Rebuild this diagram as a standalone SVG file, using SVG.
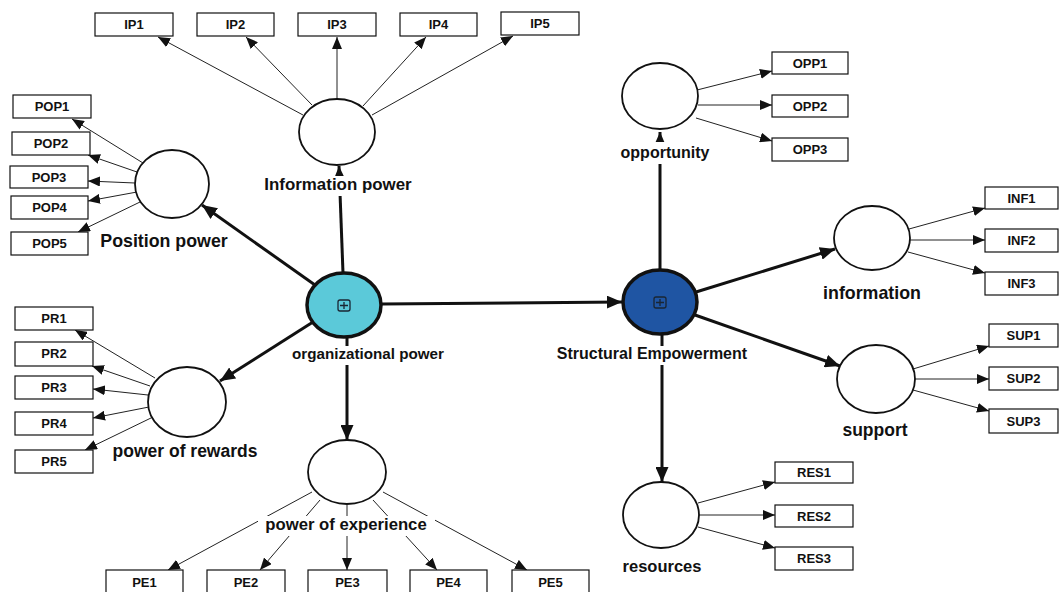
<svg xmlns="http://www.w3.org/2000/svg" width="1059" height="592" viewBox="0 0 1059 592">
<style>
.box{fill:#fff;stroke:#111;stroke-width:1.2}
.bt{font-family:"Liberation Sans",Arial,sans-serif;font-weight:bold;font-size:13px;fill:#111;text-anchor:middle}
.lv{fill:#fff;stroke:#111;stroke-width:1.8}
.lb{font-family:"Liberation Sans",Arial,sans-serif;font-weight:bold;font-size:16px;fill:#111;text-anchor:middle}
.thin{stroke:#222;stroke-width:1;fill:none;marker-end:url(#a1)}
.thick{stroke:#111;stroke-width:3;fill:none;marker-end:url(#a2)}
.bg{fill:#fff}
.icon{fill:none;stroke:#1a2633;stroke-width:1.3}
</style>
<defs>
<marker id="a1" markerUnits="userSpaceOnUse" markerWidth="12" markerHeight="10" refX="12" refY="5" orient="auto"><path d="M0,0 L12,5 L0,10 z" fill="#111"/></marker>
<marker id="a2" markerUnits="userSpaceOnUse" markerWidth="15" markerHeight="13" refX="15" refY="6.5" orient="auto"><path d="M0,0 L15,6.5 L0,13 z" fill="#111"/></marker>
</defs>
<rect width="1059" height="592" fill="#fff"/>
<g id="connectors">
<line class="thick" x1="382" y1="304" x2="622" y2="302"/>
<line class="thick" x1="343" y1="273" x2="339" y2="166"/>
<line class="thick" x1="315" y1="285" x2="202" y2="205"/>
<line class="thick" x1="313" y1="322" x2="220" y2="381"/>
<line class="thick" x1="347" y1="337" x2="347" y2="440"/>
<line class="thick" x1="660" y1="270" x2="660" y2="132"/>
<line class="thick" x1="696" y1="292" x2="835" y2="249"/>
<line class="thick" x1="695" y1="315" x2="840" y2="366"/>
<line class="thick" x1="662" y1="334" x2="662" y2="482"/>
<line class="thin" x1="303" y1="115" x2="158" y2="37"/>
<line class="thin" x1="312" y1="105" x2="246" y2="37"/>
<line class="thin" x1="337" y1="99" x2="337" y2="37"/>
<line class="thin" x1="363" y1="106" x2="426" y2="37"/>
<line class="thin" x1="372" y1="115" x2="513" y2="36"/>
<line class="thin" x1="143" y1="163" x2="72" y2="119"/>
<line class="thin" x1="137" y1="172" x2="88" y2="155"/>
<line class="thin" x1="135" y1="183" x2="88" y2="181"/>
<line class="thin" x1="137" y1="192" x2="88" y2="201"/>
<line class="thin" x1="140" y1="202" x2="78" y2="232"/>
<line class="thin" x1="155" y1="378" x2="75" y2="330"/>
<line class="thin" x1="150" y1="386" x2="92" y2="366"/>
<line class="thin" x1="148" y1="395" x2="93" y2="389"/>
<line class="thin" x1="149" y1="407" x2="93" y2="418"/>
<line class="thin" x1="153" y1="417" x2="85" y2="450"/>
<line class="thin" x1="312" y1="492" x2="168" y2="570"/>
<line class="thin" x1="320" y1="500" x2="260" y2="570"/>
<line class="thin" x1="347" y1="505" x2="347" y2="570"/>
<line class="thin" x1="373" y1="500" x2="437" y2="570"/>
<line class="thin" x1="383" y1="492" x2="527" y2="570"/>
<line class="thin" x1="697" y1="90" x2="772" y2="71"/>
<line class="thin" x1="698" y1="105" x2="772" y2="105"/>
<line class="thin" x1="696" y1="118" x2="772" y2="141"/>
<line class="thin" x1="909" y1="229" x2="985" y2="208"/>
<line class="thin" x1="910" y1="240" x2="985" y2="240"/>
<line class="thin" x1="908" y1="252" x2="985" y2="273"/>
<line class="thin" x1="913" y1="369" x2="989" y2="346"/>
<line class="thin" x1="915" y1="379" x2="989" y2="379"/>
<line class="thin" x1="913" y1="390" x2="989" y2="411"/>
<line class="thin" x1="698" y1="503" x2="775" y2="482"/>
<line class="thin" x1="699" y1="515" x2="775" y2="515"/>
<line class="thin" x1="698" y1="527" x2="775" y2="548"/>
</g>
<g id="organizational-power">
<ellipse cx="344" cy="305" rx="37" ry="32" fill="#5BC9D9" stroke="#111" stroke-width="3.5"/>
<rect class="icon" x="338" y="300" width="12" height="11" rx="2"/>
<path class="icon" d="M344,302 V309 M340,305.5 H348"/>
<rect class="bg" x="290" y="346" width="156" height="19"/>
<text class="lb" x="368" y="359" style="font-size:15.2px">organizational power</text>
</g>
<g id="structural-empowerment">
<ellipse cx="660" cy="302" rx="37" ry="32" fill="#1F55A3" stroke="#111" stroke-width="3.5"/>
<rect class="icon" x="654" y="297" width="12" height="11" rx="2"/>
<path class="icon" d="M660,299 V306 M656,302.5 H664"/>
<rect class="bg" x="555" y="346" width="195" height="19"/>
<text class="lb" x="652" y="359">Structural Empowerment</text>
</g>
<g id="information-power">
<ellipse class="lv" cx="337" cy="132" rx="38" ry="33"/>
<rect class="bg" x="262" y="176" width="153" height="20"/>
<text class="lb" x="338" y="190" style="font-size:16.9px">Information power</text>
</g>
<g id="position-power">
<ellipse class="lv" cx="172" cy="184" rx="37" ry="34"/>
<text class="lb" x="164" y="247" style="font-size:17.8px">Position power</text>
</g>
<g id="power-of-rewards">
<ellipse class="lv" cx="187" cy="402" rx="39" ry="35"/>
<text class="lb" x="185" y="457" style="font-size:17.5px">power of rewards</text>
</g>
<g id="power-of-experience">
<ellipse class="lv" cx="347" cy="472" rx="39" ry="32"/>
<rect class="bg" x="258" y="516" width="177" height="20"/>
<text class="lb" x="346" y="530" style="font-size:16.7px">power of experience</text>
</g>
<g id="opportunity">
<ellipse class="lv" cx="660" cy="96" rx="38" ry="33"/>
<rect class="bg" x="618" y="142" width="94" height="22"/>
<text class="lb" x="665" y="158">opportunity</text>
</g>
<g id="information">
<ellipse class="lv" cx="872" cy="238" rx="38" ry="32"/>
<text class="lb" x="872" y="299" style="font-size:17.8px">information</text>
</g>
<g id="support">
<ellipse class="lv" cx="876" cy="379" rx="39" ry="34"/>
<text class="lb" x="875" y="436" style="font-size:17.5px">support</text>
</g>
<g id="resources">
<ellipse class="lv" cx="661" cy="515" rx="38" ry="33"/>
<text class="lb" x="662" y="572" style="font-size:16.5px">resources</text>
</g>
<g id="IP1"><rect class="box" x="95" y="13" width="78" height="23"/><text class="bt" x="134" y="29">IP1</text></g>
<g id="IP2"><rect class="box" x="197" y="13" width="77" height="23"/><text class="bt" x="235.5" y="29">IP2</text></g>
<g id="IP3"><rect class="box" x="298" y="13" width="78" height="23"/><text class="bt" x="337" y="29">IP3</text></g>
<g id="IP4"><rect class="box" x="400" y="13" width="77" height="23"/><text class="bt" x="438.5" y="29">IP4</text></g>
<g id="IP5"><rect class="box" x="501" y="12" width="78" height="23"/><text class="bt" x="540" y="28">IP5</text></g>
<g id="POP1"><rect class="box" x="13" y="95" width="78" height="23"/><text class="bt" x="52" y="111">POP1</text></g>
<g id="POP2"><rect class="box" x="12" y="132" width="78" height="23"/><text class="bt" x="51" y="148">POP2</text></g>
<g id="POP3"><rect class="box" x="10" y="166" width="78" height="22"/><text class="bt" x="49" y="182">POP3</text></g>
<g id="POP4"><rect class="box" x="11" y="196" width="77" height="23"/><text class="bt" x="49.5" y="212">POP4</text></g>
<g id="POP5"><rect class="box" x="11" y="232" width="77" height="23"/><text class="bt" x="49.5" y="248">POP5</text></g>
<g id="PR1"><rect class="box" x="15" y="307" width="78" height="23"/><text class="bt" x="54" y="323">PR1</text></g>
<g id="PR2"><rect class="box" x="15" y="342" width="78" height="24"/><text class="bt" x="54" y="358">PR2</text></g>
<g id="PR3"><rect class="box" x="15" y="376" width="78" height="23"/><text class="bt" x="54" y="392">PR3</text></g>
<g id="PR4"><rect class="box" x="15" y="412" width="78" height="23"/><text class="bt" x="54" y="428">PR4</text></g>
<g id="PR5"><rect class="box" x="15" y="450" width="78" height="23"/><text class="bt" x="54" y="466">PR5</text></g>
<g id="PE1"><rect class="box" x="106" y="570" width="77" height="30"/><text class="bt" x="144.5" y="587">PE1</text></g>
<g id="PE2"><rect class="box" x="207" y="570" width="78" height="30"/><text class="bt" x="246" y="587">PE2</text></g>
<g id="PE3"><rect class="box" x="308" y="570" width="79" height="30"/><text class="bt" x="347.5" y="587">PE3</text></g>
<g id="PE4"><rect class="box" x="410" y="570" width="77" height="30"/><text class="bt" x="448.5" y="587">PE4</text></g>
<g id="PE5"><rect class="box" x="512" y="570" width="77" height="30"/><text class="bt" x="550.5" y="587">PE5</text></g>
<g id="OPP1"><rect class="box" x="772" y="52" width="76" height="22"/><text class="bt" x="810" y="68">OPP1</text></g>
<g id="OPP2"><rect class="box" x="772" y="95" width="76" height="22"/><text class="bt" x="810" y="111">OPP2</text></g>
<g id="OPP3"><rect class="box" x="772" y="138" width="76" height="23"/><text class="bt" x="810" y="154">OPP3</text></g>
<g id="INF1"><rect class="box" x="985" y="187" width="73" height="22"/><text class="bt" x="1021.5" y="203">INF1</text></g>
<g id="INF2"><rect class="box" x="985" y="229" width="73" height="23"/><text class="bt" x="1021.5" y="245">INF2</text></g>
<g id="INF3"><rect class="box" x="985" y="272" width="73" height="23"/><text class="bt" x="1021.5" y="288">INF3</text></g>
<g id="SUP1"><rect class="box" x="989" y="324" width="69" height="23"/><text class="bt" x="1023.5" y="340">SUP1</text></g>
<g id="SUP2"><rect class="box" x="989" y="367" width="69" height="23"/><text class="bt" x="1023.5" y="383">SUP2</text></g>
<g id="SUP3"><rect class="box" x="989" y="409" width="69" height="24"/><text class="bt" x="1023.5" y="426">SUP3</text></g>
<g id="RES1"><rect class="box" x="775" y="462" width="78" height="21"/><text class="bt" x="814" y="477">RES1</text></g>
<g id="RES2"><rect class="box" x="775" y="505" width="78" height="22"/><text class="bt" x="814" y="521">RES2</text></g>
<g id="RES3"><rect class="box" x="775" y="547" width="78" height="23"/><text class="bt" x="814" y="563">RES3</text></g>
</svg>
